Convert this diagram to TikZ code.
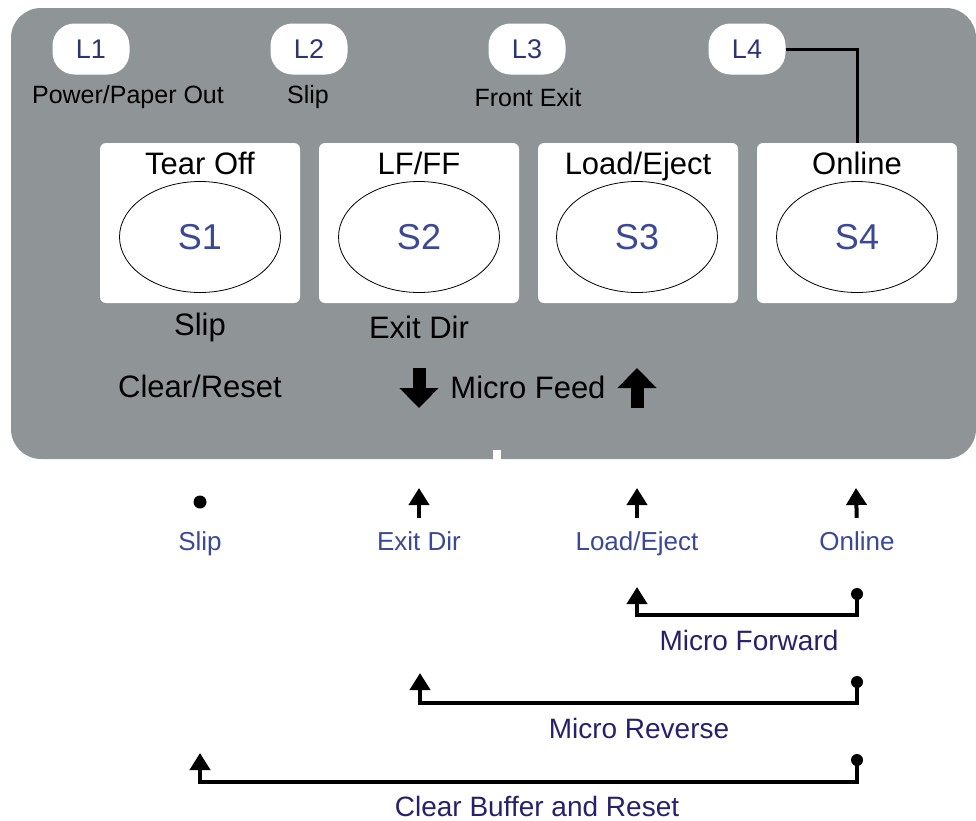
\documentclass[tikz,border=0pt]{standalone}
\usepackage{fontspec}
\setmainfont{Liberation Sans}
\usepackage{tikz}
\usetikzlibrary{shapes.geometric, arrows.meta, positioning}
\definecolor{panelgray}{RGB}{143,149,151}
\definecolor{ledblue}{RGB}{45,52,118}
\definecolor{keyblue}{RGB}{58,72,150}
\definecolor{combblue}{RGB}{40,32,108}
\tikzstyle{panel} = [rectangle, rounded corners=30pt, fill=panelgray, minimum width=965pt, minimum height=451pt, inner sep=0pt]
\tikzstyle{led} = [rectangle, rounded corners=22pt, fill=white, minimum width=77pt, minimum height=51pt, inner sep=0pt, text=ledblue, font=\fontsize{27}{32}\selectfont]
\tikzstyle{ledtext} = [font=\fontsize{25}{30}\selectfont, inner sep=0pt]
\tikzstyle{keybox} = [rectangle, rounded corners=6pt, fill=white, minimum width=200pt, minimum height=160pt, inner sep=0pt]
\tikzstyle{keyoval} = [ellipse, draw=black, line width=0.8pt, minimum width=161pt, minimum height=111pt, text=keyblue, font=\fontsize{36}{40}\selectfont]
\tikzstyle{title} = [font=\fontsize{31}{36}\selectfont, inner sep=0pt]
\tikzstyle{keyname} = [text=keyblue, font=\fontsize{26}{30}\selectfont, inner sep=2pt, text height=19pt, text depth=5pt]
\tikzstyle{combo} = [text=combblue, font=\fontsize{28}{32}\selectfont]
\tikzstyle{dot} = [circle, fill=black, inner sep=0pt, minimum size=13pt]
\tikzstyle{link} = [line width=3pt]
\tikzstyle{arrow} = [line width=4pt, -{Triangle[width=20pt,length=17pt]}]
\tikzstyle{blockarrow} = [line width=13pt, -{Triangle[width=38pt,length=20pt]}]

\begin{document}
\begin{tikzpicture}[x=1pt,y=-1pt]
	\useasboundingbox (0,0) rectangle (976,820);
	\node (panel) [panel] at (493.5,233.5) {};
	\fill [white] (493,450) rectangle (501,460);

	% indicator lamps
	\node (l1) [led] at (91,49) {L1};
	\node (l2) [led] at (309,49) {L2};
	\node (l3) [led] at (527,49) {L3};
	\node (l4) [led] at (747,49) {L4};
	\node (l1text) [ledtext] at (128,97) {Power/Paper Out};
	\node (l2text) [ledtext] at (308,97) {Slip};
	\node (l3text) [ledtext] at (528,98) {Front Exit};

	% keys
	\node (s1box) [keybox] at (200,223) {};
	\node (s2box) [keybox] at (419,223) {};
	\node (s3box) [keybox] at (638,223) {};
	\node (s4box) [keybox] at (857,223) {};
	\node (s1) [keyoval] at (200,237) {S1};
	\node (s2) [keyoval] at (419,237) {S2};
	\node (s3) [keyoval] at (637,237) {S3};
	\node (s4) [keyoval] at (857,237) {S4};
	\node (s1title) [title, below=9pt of s1box.north] {Tear Off};
	\node (s2title) [title, below=9pt of s2box.north] {LF/FF};
	\node (s3title) [title, below=9pt of s3box.north] {Load/Eject};
	\node (s4title) [title, below=9pt of s4box.north] {Online};
	\node (s1sub) [title] at (200,327) {Slip};
	\node (s2sub) [title] at (419,327) {Exit Dir};
	\node (clear) [title] at (200,386) {Clear/Reset};
	\node (feed) [title] at (528,387) {Micro Feed};

	\coordinate (dntop) at (419,368);
	\coordinate (dnbot) at (419,408);
	\coordinate (uptop) at (637,368);
	\coordinate (upbot) at (637,408);
	\draw [blockarrow] (dntop) -- (dnbot);
	\draw [blockarrow] (upbot) -- (uptop);

	\draw [link] (l4.east) -| (s4box.north);

	% key legend
	\node (kslip) [keyname] at (200,543) {Slip};
	\node (kexit) [keyname] at (419,543) {Exit Dir};
	\node (kload) [keyname] at (637,543) {Load/Eject};
	\node (konline) [keyname] at (857,543) {Online};
	\node (slipdot) [dot] at (200,502) {};
	\coordinate (exittip) at (419,488);
	\coordinate (loadtip) at (637,488);
	\coordinate (onlinetip) at (856,488);
	\draw [arrow, shorten <=11pt] (kexit.north) -- (exittip);
	\draw [arrow, shorten <=11pt] (kload.north) -- (loadtip);
	\draw [arrow, shorten <=11pt] (konline.north) -- (onlinetip);

	% key combinations
	\node (fwddot) [dot, minimum size=12pt] at (857,594) {};
	\coordinate (fwdtip) at (637,587);
	\draw [arrow] (fwddot.center) -- ++(0,21) -| (fwdtip);
	\node (fwd) [combo] at (749,640) {Micro Forward};

	\node (revdot) [dot, minimum size=12pt] at (857,682) {};
	\coordinate (revtip) at (420,673);
	\draw [arrow] (revdot.center) -- ++(0,21) -| (revtip);
	\node (rev) [combo] at (639,728) {Micro Reverse};

	\node (clrdot) [dot, minimum size=12pt] at (857,760) {};
	\coordinate (clrtip) at (200,753);
	\draw [arrow] (clrdot.center) -- ++(0,22) -| (clrtip);
	\node (clr) [combo] at (537,806) {Clear Buffer and Reset};
\end{tikzpicture}
\end{document}
